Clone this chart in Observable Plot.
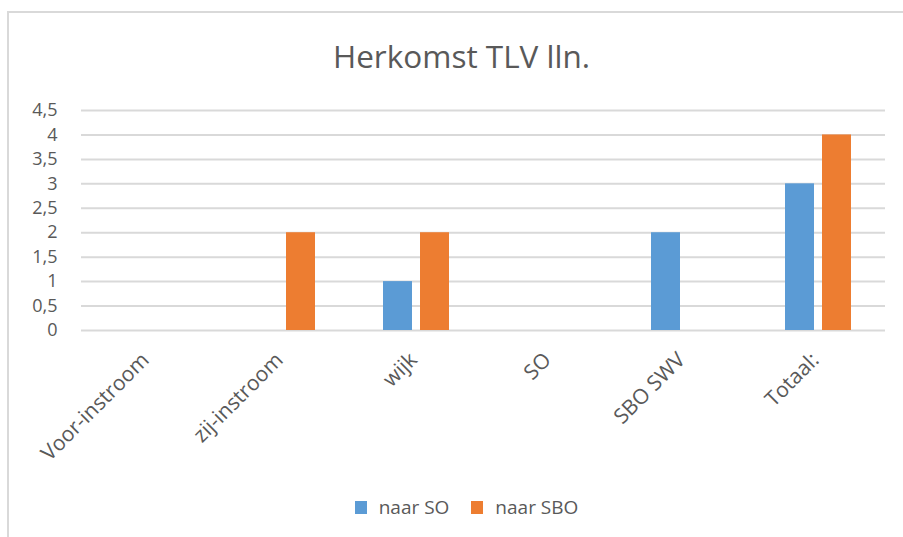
<!DOCTYPE html>
<html>
<head>
<meta charset="utf-8">
<script src="https://cdn.jsdelivr.net/npm/d3@7"></script>
<script src="https://cdn.jsdelivr.net/npm/@observablehq/plot@0.6"></script>
<style>
  html, body { margin: 0; padding: 0; background: #fff; width: 903px; height: 537px; overflow: hidden; }
  body { position: relative; font-family: "Open Sans", "Noto Sans", sans-serif; color: #595959; }
  #frame { position: absolute; left: 7px; top: 11px; width: 1000px; height: 700px; border: 2px solid #D9D9D9; box-sizing: border-box; }
  #title { position: absolute; left: 0; top: 32px; width: 923px; text-align: center; font-size: 31.5px; line-height: 48px; color: #595959; }
  #chart { position: absolute; left: 0; top: 90px; }
  #legend { position: absolute; left: 0; top: 494px; width: 933px; display: flex; justify-content: center; align-items: center; font-size: 19px; color: #595959; }
  #legend .item { display: flex; align-items: center; margin: 0 11px; }
  #legend .sw { width: 12px; height: 13px; margin-right: 12px; }
</style>
</head>
<body>
<div id="frame"></div>
<div id="title">Herkomst TLV lln.</div>
<div id="chart"></div>
<div id="legend"></div>
<script>
const categories = ["Voor-instroom", "zij-instroom", "wijk", "SO", "SBO SWV", "Totaal:"];
const seriesNames = ["naar SO", "naar SBO"];
const naarSO = [0, 0, 1, 0, 2, 3];
const naarSBO = [0, 2, 2, 0, 0, 4];
const yTicks = [0, 0.5, 1, 1.5, 2, 2.5, 3, 3.5, 4, 4.5];
const colors = ["#5B9BD5", "#ED7D31"];

const data = [];
categories.forEach((c, i) => {
  data.push({cat: c, series: seriesNames[0], value: naarSO[i]});
  data.push({cat: c, series: seriesNames[1], value: naarSBO[i]});
});

const fmt = v => String(v).replace(".", ",");

const chart = Plot.plot({
  width: 903,
  height: 390,
  marginTop: 20,
  marginBottom: 150,
  marginLeft: 78,
  marginRight: 16,
  style: {fontFamily: "'Open Sans', 'Noto Sans', sans-serif", fontSize: "18px", color: "#595959", background: "transparent"},
  fx: {domain: categories, padding: 0, label: null},
  x: {domain: seriesNames, paddingInner: 0.21, paddingOuter: 0.88, axis: null},
  y: {domain: [0, 4.5], label: null},
  color: {domain: seriesNames, range: colors},
  marks: [
    Plot.gridY(yTicks, {stroke: "#D9D9D9", strokeOpacity: 1, strokeWidth: 2}),
    Plot.axisY(yTicks, {tickSize: 0, tickPadding: 24, tickFormat: fmt, fill: "#595959", fontSize: 18, label: null}),
    Plot.barY(data, {fx: "cat", x: "series", y: "value", fill: "series"}),
    Plot.axisFx({anchor: "bottom", tickSize: 0, tickPadding: 26, dx: -3, tickRotate: -45, fill: "#595959", fontSize: 21, label: null})
  ]
});
document.getElementById("chart").appendChild(chart);

const legend = document.getElementById("legend");
seriesNames.forEach((s, i) => {
  const item = document.createElement("div");
  item.className = "item";
  const sw = document.createElement("div");
  sw.className = "sw";
  sw.style.background = colors[i];
  const label = document.createElement("span");
  label.textContent = s;
  item.appendChild(sw);
  item.appendChild(label);
  legend.appendChild(item);
});
</script>
</body>
</html>
